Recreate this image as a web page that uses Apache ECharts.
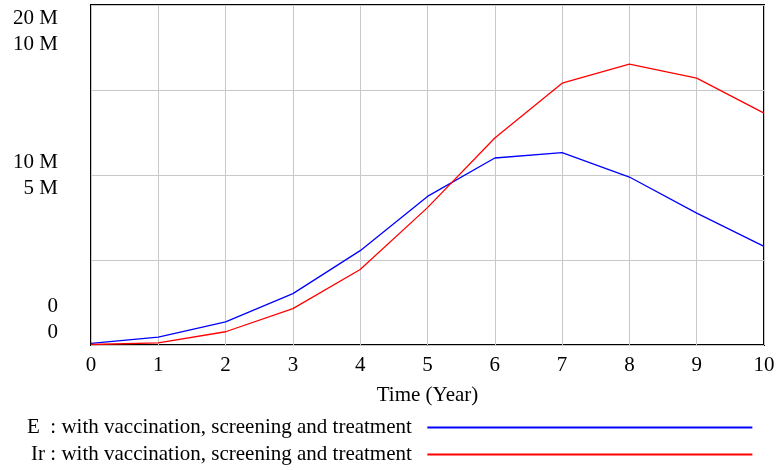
<!DOCTYPE html>
<html>
<head>
    <meta charset="UTF-8">
    <title>E and Ir</title>
    <script src="https://cdn.jsdelivr.net/npm/echarts@6/dist/echarts.min.js"></script>
    <style>
        body { margin: 0; background: #fff; }
        #chart { width: 777px; height: 470px; }
    </style>
</head>
<body>
    <div id="chart"></div>
    <script>
        // time axis (years)
        const years = [0, 1, 2, 3, 4, 5, 6, 7, 8, 9, 10];
        // E, read on the 0..20 M scale
        const eValues = [0.09e6, 0.46e6, 1.36e6, 3.02e6, 5.55e6, 8.74e6, 11.0e6, 11.32e6, 9.88e6, 7.76e6, 5.80e6];
        // Ir, read on the 0..10 M scale
        const irValues = [0.015e6, 0.065e6, 0.39e6, 1.07e6, 2.22e6, 4.04e6, 6.09e6, 7.70e6, 8.26e6, 7.85e6, 6.82e6];
        // stacked left labels (E scale / Ir scale)
        const yLabels = {
            0: '0\n0\n\n',
            10000000: '10 M\n5 M',
            20000000: '\n\n20 M\n10 M'
        };
        const seriesNames = [
            'E  : with vaccination, screening and treatment',
            'Ir : with vaccination, screening and treatment'
        ];

        const font = 'Liberation Serif';
        const chart = echarts.init(document.getElementById('chart'));

        chart.setOption({
            animation: false,
            grid: {
                left: 91, right: 13, top: 5, bottom: 125,
                outerBoundsMode: 'none',
                show: true, borderColor: '#000', borderWidth: 2
            },
            xAxis: {
                type: 'value',
                min: 0, max: 10, interval: 1,
                name: 'Time (Year)',
                nameLocation: 'middle',
                nameGap: 40,
                nameTextStyle: { fontFamily: font, fontSize: 21, color: '#000' },
                axisLine: { show: false },
                axisTick: { show: false },
                axisLabel: { fontFamily: font, fontSize: 21, color: '#000', margin: 10 },
                splitLine: { lineStyle: { color: '#c8c8c8', width: 1 } }
            },
            yAxis: [{
                type: 'value',
                min: 0, max: 20e6, interval: 5e6,
                axisLine: { show: false },
                axisTick: { show: false },
                axisLabel: {
                    fontFamily: font, fontSize: 21, color: '#000',
                    lineHeight: 26, margin: 33,
                    formatter: v => yLabels[v] || ''
                },
                splitLine: { lineStyle: { color: '#c8c8c8', width: 1 } }
            }, {
                type: 'value',
                min: 0, max: 10e6, interval: 2.5e6,
                position: 'left',
                show: false
            }],
            legend: {
                orient: 'vertical',
                left: 27, top: 417,
                padding: 0,
                align: 'right',
                icon: 'rect',
                itemWidth: 325, itemHeight: 2,
                itemGap: 6,
                formatter: n => n + '  ',
                textStyle: { fontFamily: font, fontSize: 21, color: '#000' },
                data: seriesNames
            },
            series: [{
                name: seriesNames[0],
                type: 'line',
                yAxisIndex: 0,
                data: years.map((t, i) => [t, eValues[i]]),
                showSymbol: false,
                color: '#0000ff',
                lineStyle: { width: 1.3 }
            }, {
                name: seriesNames[1],
                type: 'line',
                yAxisIndex: 1,
                data: years.map((t, i) => [t, irValues[i]]),
                showSymbol: false,
                color: '#ff0000',
                lineStyle: { width: 1.3 }
            }]
        });
    </script>
</body>
</html>
